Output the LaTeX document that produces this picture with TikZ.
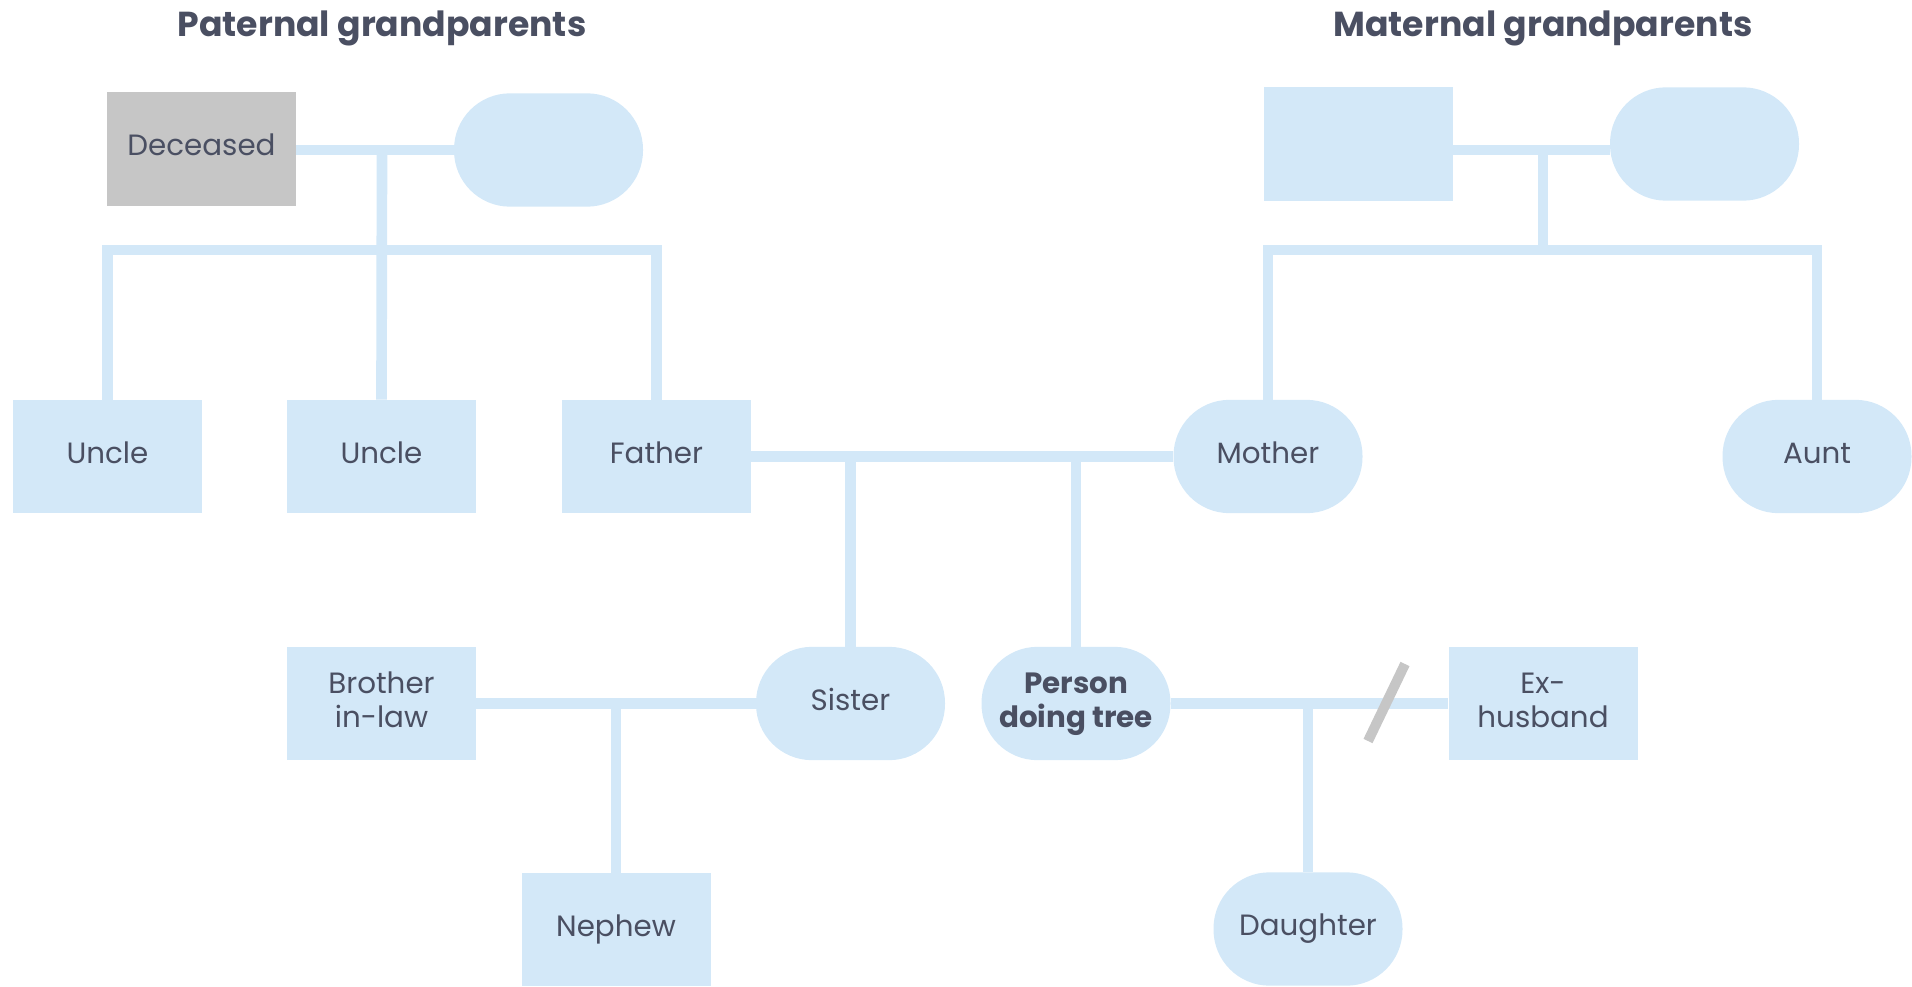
\documentclass[tikz,border=0pt]{standalone}
\usepackage{fontspec}
\setmainfont{Poppins}
\definecolor{kin}{HTML}{D3E8F8}
\definecolor{ink}{HTML}{4A4F62}
\definecolor{gone}{HTML}{C6C6C6}
% one or more centred lines, baseline on the last line
\newcommand\lbltext[1]{\begin{tabular}[b]{@{}c@{}}#1\end{tabular}}

\begin{document}
\begin{tikzpicture}[x=0.75pt,y=-0.75pt,
  member/.style={fill=kin, inner sep=0pt, minimum width=141.75pt, minimum height=85pt,
                 text=ink, font=\fontsize{22}{25.5}\selectfont},
  male/.style={member, rectangle},
  female/.style={member, rectangle, rounded corners=42pt},
  deceased/.style={male, fill=gone},
  link/.style={draw=kin, line width=8pt},
  heading/.style={text=ink, font=\fontsize{26}{30}\selectfont\bfseries, anchor=base, inner sep=0pt},
  divorce/.style={draw=gone, line width=7.5pt}]

\useasboundingbox (0,0) rectangle (1912,987);

% headings
\node[heading] (ptitle) at (382,37) {Paternal grandparents};
\node[heading] (mtitle) at (1543,37) {Maternal grandparents};

% grandparents
\node[deceased] (pgf) at (201.5,149) {\lbltext{Deceased}};
\node[female]   (pgm) at (548.5,150) {};
\node[male]     (mgf) at (1358,144) {};
\node[female]   (mgm) at (1704.5,144) {};

% parents' generation
\node[male]   (unc1)   at (107.5,456.5) {\lbltext{Uncle}};
\node[male]   (unc2)   at (381.5,456.5) {\lbltext{Uncle}};
\node[male]   (father) at (656.5,456.5) {\lbltext{Father}};
\node[female] (mother) at (1268,456.5) {\lbltext{Mother}};
\node[female] (aunt)   at (1817,456.5) {\lbltext{Aunt}};

% own generation
\node[male]   (bil)    at (381.5,703.5) {\lbltext{Brother\\in-law}};
\node[female] (sister) at (850.5,703.5) {\lbltext{Sister}};
\node[female] (self)   at (1076,703.5) {\lbltext{\bfseries Person\\\bfseries doing tree}};
\node[male]   (exh)    at (1543,703.5) {\lbltext{Ex-\\husband}};

% children
\node[male]   (nephew)   at (616,929.5) {\lbltext{Nephew}};
\node[female] (daughter) at (1308,929) {\lbltext{Daughter}};

% junction points on the couple lines
\coordinate (pj) at (382,150);
\coordinate (pbar) at (382,250);
\coordinate (mj) at (1543,150);
\coordinate (mbar) at (1543,250);

% paternal grandparents and their children
\draw[link] (pgf.east |- pj) -- (pgm.west |- pj);
\draw[link] (pj) -- (unc2.north);
\draw[link] (unc1.north) -- (unc1.north |- pbar) -- (father.north |- pbar) -- (father.north);

% maternal grandparents and their children
\draw[link] (mgf.east |- mj) -- (mgm.west |- mj);
\draw[link] (mj) -- (mbar);
\draw[link] (mother.north) -- (mother.north |- mbar) -- (aunt.north |- mbar) -- (aunt.north);

% parents and their children
\draw[link] (father.east) -- (mother.west);
\draw[link] (sister.north) -- (sister.north |- father.east);
\draw[link] (self.north) -- (self.north |- father.east);

% sister's family
\draw[link] (bil.east) -- (sister.west);
\draw[link] (nephew.north) -- (nephew.north |- bil.east);

% own family, with the divorce mark
\draw[link] (self.east) -- (exh.west);
\draw[link] (daughter.north) -- (daughter.north |- self.east);
\coordinate (cutA) at (1368,741);
\coordinate (cutB) at (1405,664);
\draw[divorce] (cutA) -- (cutB);
\end{tikzpicture}
\end{document}
